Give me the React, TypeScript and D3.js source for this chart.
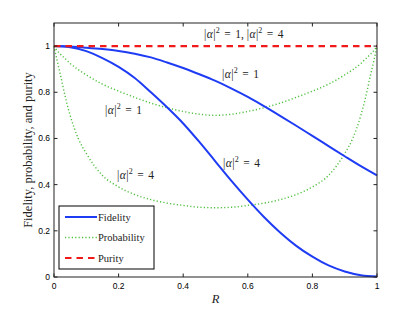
import React, { useEffect, useRef } from 'react';
import * as d3 from 'd3';

// R grid used by the fidelity curves
const fidR = [0, 0.05, 0.1, 0.15, 0.2, 0.25, 0.3, 0.35, 0.4, 0.45, 0.5, 0.55, 0.6, 0.65, 0.7, 0.75, 0.8, 0.85, 0.9, 0.95, 1];
const fidelity1 = [1, 0.998, 0.993, 0.987, 0.979, 0.967, 0.951, 0.929, 0.905, 0.878, 0.849, 0.816, 0.78, 0.74, 0.698, 0.655, 0.611, 0.567, 0.523, 0.48, 0.44];
const fidelity4 = [1, 0.995, 0.978, 0.948, 0.91, 0.862, 0.8, 0.735, 0.665, 0.585, 0.5, 0.415, 0.335, 0.26, 0.193, 0.135, 0.088, 0.05, 0.024, 0.008, 0.002];

// R grid used by the probability curves (denser near the edges)
const probR = [0, 0.01, 0.02, 0.035, 0.05, 0.075, 0.1, 0.15, 0.2, 0.25, 0.3, 0.35, 0.4, 0.45, 0.5, 0.55, 0.6, 0.65, 0.7, 0.75, 0.8, 0.85, 0.9, 0.925, 0.95, 0.965, 0.98, 0.99, 1];
const probability1 = [1, 0.98, 0.965, 0.945, 0.925, 0.898, 0.875, 0.835, 0.805, 0.778, 0.753, 0.733, 0.717, 0.705, 0.7, 0.705, 0.717, 0.733, 0.753, 0.778, 0.805, 0.835, 0.875, 0.898, 0.925, 0.945, 0.965, 0.98, 1];
const probability4 = [1, 0.935, 0.875, 0.78, 0.7, 0.6, 0.535, 0.44, 0.39, 0.357, 0.335, 0.32, 0.31, 0.302, 0.3, 0.302, 0.31, 0.32, 0.335, 0.357, 0.39, 0.44, 0.535, 0.6, 0.7, 0.78, 0.875, 0.935, 1];

const purityR = [0, 1];
const purity = [1, 1];

const xTicks = [0, 0.2, 0.4, 0.6, 0.8, 1];
const yTicks = [0, 0.2, 0.4, 0.6, 0.8, 1];

const legendItems = ['Fidelity', 'Probability', 'Purity'];

const BLUE = '#1f3cf5';
const GREEN = '#4fbf3f';
const RED = '#f01a1a';
const SERIF = '"Liberation Serif", "DejaVu Serif", serif';
const SANS = '"Liberation Sans", Arial, sans-serif';

export default function App() {
  const svgRef = useRef<SVGSVGElement>(null);
  const width = 415;
  const height = 312;

  useEffect(() => {
    if (!svgRef.current) return;
    const svg = d3.select(svgRef.current);
    svg.selectAll('*').remove();

    const margin = { top: 23, right: 38, bottom: 35, left: 54 };
    const x = d3.scaleLinear().domain([0, 1]).range([margin.left, width - margin.right]);
    const y = d3.scaleLinear().domain([0, 1.1]).range([height - margin.bottom, margin.top]);

    svg.append('rect').attr('width', width).attr('height', height).attr('fill', '#fff');

    const line = d3.line<[number, number]>()
      .x(d => x(d[0]))
      .y(d => y(d[1]))
      .curve(d3.curveMonotoneX);

    const zip = (xs: number[], ys: number[]) => xs.map((v, i) => [v, ys[i]] as [number, number]);

    const plot = svg.append('g');
    plot.append('clipPath').attr('id', 'clip')
      .append('rect')
      .attr('x', x(0) - 2).attr('y', y(1.1))
      .attr('width', x(1) - x(0) + 4).attr('height', y(0) - y(1.1) + 2);
    const curves = plot.append('g').attr('clip-path', 'url(#clip)');

    // probability (dotted green)
    [probability1, probability4].forEach(p => {
      curves.append('path')
        .attr('d', line(zip(probR, p)))
        .attr('fill', 'none')
        .attr('stroke', GREEN)
        .attr('stroke-width', 1.4)
        .attr('stroke-dasharray', '1.2,2.2');
    });

    // fidelity (solid blue)
    [fidelity1, fidelity4].forEach(f => {
      curves.append('path')
        .attr('d', line(zip(fidR, f)))
        .attr('fill', 'none')
        .attr('stroke', BLUE)
        .attr('stroke-width', 2);
    });

    // purity (dashed red)
    curves.append('path')
      .attr('d', line(zip(purityR, purity)))
      .attr('fill', 'none')
      .attr('stroke', RED)
      .attr('stroke-width', 2.2)
      .attr('stroke-dasharray', '6.5,5');

    // axes box with inward ticks on all sides
    const axisColor = '#222';
    const tickLen = 3.5;
    const box = svg.append('g');
    box.append('rect')
      .attr('x', x(0)).attr('y', y(1.1))
      .attr('width', x(1) - x(0)).attr('height', y(0) - y(1.1))
      .attr('fill', 'none').attr('stroke', axisColor).attr('stroke-width', 1);

    xTicks.forEach(t => {
      box.append('line').attr('x1', x(t)).attr('x2', x(t)).attr('y1', y(0)).attr('y2', y(0) - tickLen).attr('stroke', axisColor);
      box.append('line').attr('x1', x(t)).attr('x2', x(t)).attr('y1', y(1.1)).attr('y2', y(1.1) + tickLen).attr('stroke', axisColor);
      box.append('text')
        .attr('x', x(t)).attr('y', y(0) + 12)
        .attr('text-anchor', 'middle')
        .attr('font-family', SANS).attr('font-size', 8.5)
        .text(String(t));
    });
    yTicks.forEach(t => {
      box.append('line').attr('x1', x(0)).attr('x2', x(0) + tickLen).attr('y1', y(t)).attr('y2', y(t)).attr('stroke', axisColor);
      box.append('line').attr('x1', x(1)).attr('x2', x(1) - tickLen).attr('y1', y(t)).attr('y2', y(t)).attr('stroke', axisColor);
      box.append('text')
        .attr('x', x(0) - 4).attr('y', y(t) + 3)
        .attr('text-anchor', 'end')
        .attr('font-family', SANS).attr('font-size', 8.5)
        .text(String(t));
    });

    // axis titles
    svg.append('text')
      .attr('x', (x(0) + x(1)) / 2).attr('y', 303)
      .attr('text-anchor', 'middle')
      .attr('font-family', SERIF).attr('font-style', 'italic').attr('font-size', 12.5)
      .attr('fill', '#222')
      .text('R');
    svg.append('text')
      .attr('transform', `translate(32,${(y(0) + y(1.1)) / 2}) rotate(-90)`)
      .attr('text-anchor', 'middle')
      .attr('font-family', SERIF).attr('font-size', 12.5)
      .attr('fill', '#222')
      .text('Fidelity, probability, and purity');

    // |α|² = n annotations
    const alphaLabel = (g: d3.Selection<SVGTextElement, unknown, null, undefined>, n: number) => {
      g.append('tspan').text('|');
      g.append('tspan').attr('font-style', 'italic').attr('dx', 0.5).text('α');
      g.append('tspan').attr('dx', 0.5).text('|');
      g.append('tspan').attr('font-size', 8).attr('dy', -5).text('2');
      g.append('tspan').attr('dy', 5).attr('dx', 4.5).text('=');
      g.append('tspan').attr('dx', 4.5).text(String(n));
    };
    const annot = (px: number, py: number, ns: number[]) => {
      const t = svg.append('text')
        .attr('x', px).attr('y', py)
        .attr('font-family', SERIF).attr('font-size', 11.5)
        .attr('fill', '#222');
      ns.forEach((n, i) => {
        if (i > 0) t.append('tspan').text(', ');
        alphaLabel(t, n);
      });
    };
    annot(204, 38, [1, 4]);
    annot(222, 78, [1]);
    annot(105, 114, [1]);
    annot(117, 179, [4]);
    annot(223, 167, [4]);

    // legend
    const lg = svg.append('g');
    lg.append('rect')
      .attr('x', 59).attr('y', 206).attr('width', 95).attr('height', 63)
      .attr('fill', '#fff').attr('stroke', '#000').attr('stroke-width', 1);
    const styles = [
      { stroke: BLUE, width: 2, dash: null },
      { stroke: GREEN, width: 1.4, dash: '1.2,2.2' },
      { stroke: RED, width: 2.2, dash: '6.5,5' },
    ];
    legendItems.forEach((name, i) => {
      const ly = 217 + i * 20.5;
      const s = styles[i];
      const l = lg.append('line')
        .attr('x1', 65).attr('x2', 97).attr('y1', ly).attr('y2', ly)
        .attr('stroke', s.stroke).attr('stroke-width', s.width);
      if (s.dash) l.attr('stroke-dasharray', s.dash);
      lg.append('text')
        .attr('x', 98).attr('y', ly + 3.5)
        .attr('font-family', SERIF).attr('font-size', 10.5)
        .attr('fill', '#222')
        .text(name);
    });
  }, []);

  return (
    <svg
      ref={svgRef}
      width={width}
      height={height}
      style={{ position: 'absolute', left: 0, top: 0, display: 'block' }}
    />
  );
}
